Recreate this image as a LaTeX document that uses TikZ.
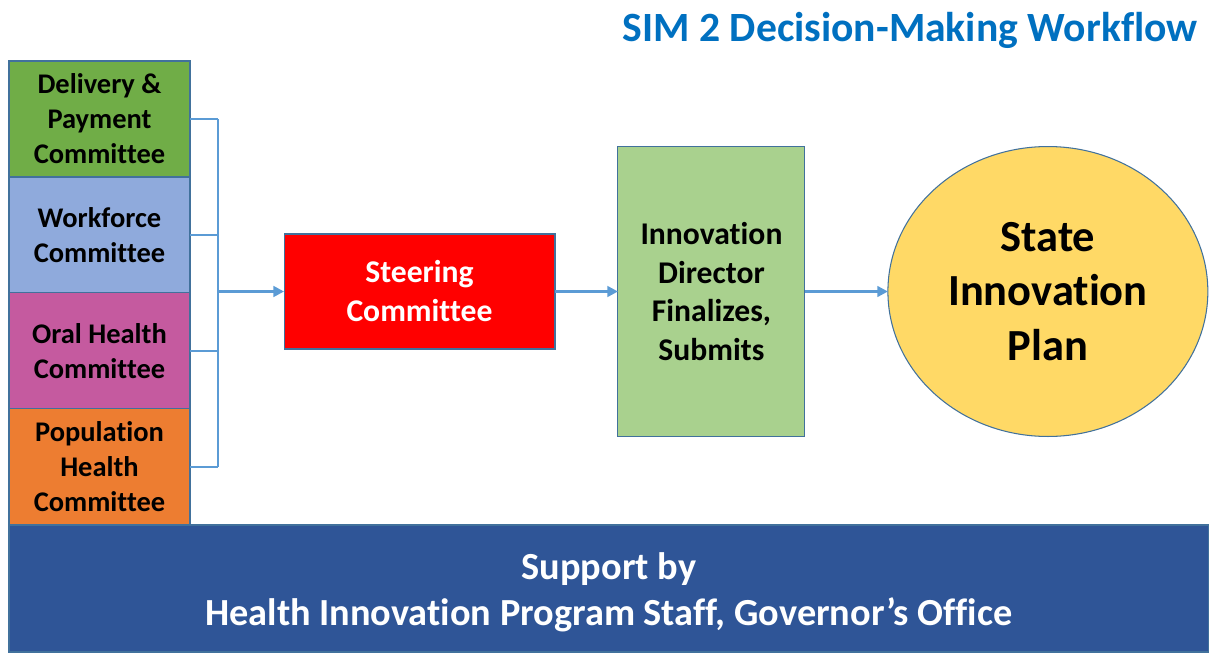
\documentclass[tikz,border=0pt]{standalone}
\usepackage{fontspec}
\setmainfont[Ligatures=NoCommon]{Carlito}
\usepackage{tikz}
\usetikzlibrary{positioning,arrows.meta}
\usetikzlibrary{shapes.geometric}

\definecolor{boxline}{HTML}{41719C}
\definecolor{linkblue}{HTML}{5B9BD5}
\definecolor{titleblue}{HTML}{0070C0}
\definecolor{bandblue}{HTML}{2F5597}
\definecolor{dpcgreen}{HTML}{70AD47}
\definecolor{wfcblue}{HTML}{8FAADC}
\definecolor{ohcpink}{HTML}{C55A9F}
\definecolor{phcorange}{HTML}{ED7D31}
\definecolor{dirgreen}{HTML}{A9D18E}
\definecolor{planyellow}{HTML}{FFD966}

\begin{document}
\begin{tikzpicture}[
    x=0.02cm, y=-0.02cm,
    box/.style={
        draw=boxline,
        line width=0.6pt,
        align=center,
        inner sep=2pt,
        outer sep=0pt
    },
    cmte/.style={
        box,
        fill=#1,
        minimum width=3.62cm,
        minimum height=2.32cm,
        font=\fontsize{16.2}{19.9}\selectfont\bfseries
    },
    link/.style={draw=linkblue,line width=1.5pt},
    flow/.style={link,-{Triangle[length=6pt,width=6pt]}},
    node distance=0pt
]
  \useasboundingbox (0,0) rectangle (1209,652);

  \node[anchor=base east,inner sep=0pt,text=titleblue,
        font=\fontsize{23.7}{28}\selectfont\bfseries] (title) at (1198,42)
    {SIM 2 Decision-Making Workflow};

  % committees
  \node[cmte=dpcgreen] (dpc) at (99.5,119) {Delivery \&\\Payment\\Committee};
  \node[cmte=wfcblue,below=of dpc] (wfc) {Workforce\\Committee};
  \node[cmte=ohcpink,below=of wfc] (ohc) {Oral Health\\Committee};
  \node[cmte=phcorange,below=of ohc] (phc) {Population\\Health\\Committee};

  \node[box,fill=red,text=white,minimum width=5.42cm,minimum height=2.3cm,
        font=\fontsize{18}{22.2}\selectfont\bfseries] (steer) at (419.5,291.5)
    {Steering\\Committee};

  \node[box,fill=dirgreen,minimum width=3.74cm,minimum height=5.8cm,
        font=\fontsize{18}{21.9}\selectfont\bfseries,right=1.26cm of steer] (director)
    {Innovation\\Director\\Finalizes,\\Submits};

  \node[box,ellipse,fill=planyellow,inner sep=0pt,minimum width=6.4cm,minimum height=5.8cm,
        font=\fontsize{25.3}{31}\selectfont\bfseries,right=1.66cm of director] (plan)
    {State\\Innovation\\Plan};

  \node[box,fill=bandblue,text=white,anchor=north west,minimum width=24cm,minimum height=2.54cm,
        font=\fontsize{21.8}{26.2}\selectfont\bfseries] (support) at (9,525)
    {\rule{0pt}{20pt}Support by\\Health Innovation Program Staff, Governor’s Office};

  % bracket into steering committee
  \coordinate (bar) at (218,291.5);
  \foreach \Cmte in {dpc,wfc,ohc,phc} {
    \draw[link] (\Cmte.east) -- (\Cmte.east -| bar);
  }
  \draw[link] (dpc.east -| bar) -- (phc.east -| bar);
  \draw[flow] (bar) -- (steer.west);

  \draw[flow] (steer) -- (director);
  \draw[flow] (director) -- (plan);
\end{tikzpicture}
\end{document}
